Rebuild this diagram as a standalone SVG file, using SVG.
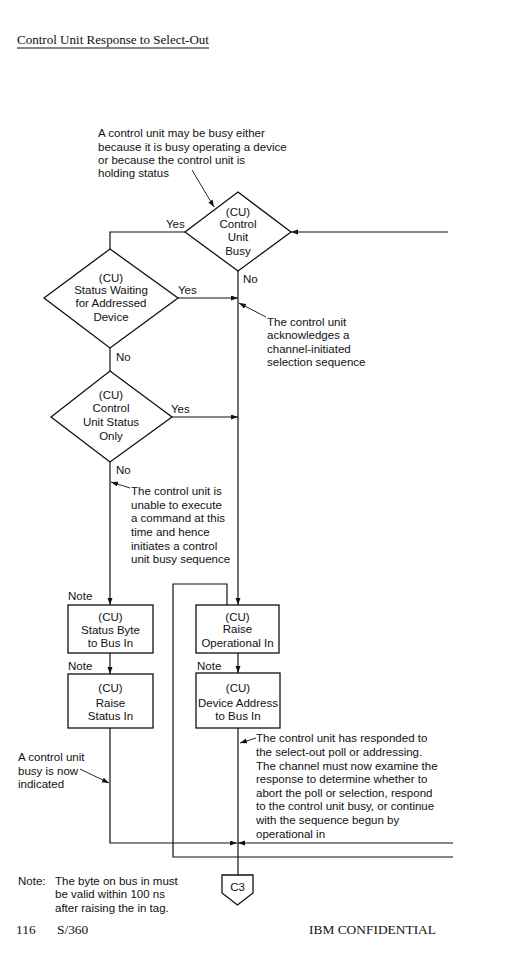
<svg xmlns="http://www.w3.org/2000/svg" width="526" height="972" viewBox="0 0 526 972">
<style>
.bg{fill:#fff}
.shape{fill:#fff;stroke:#111;stroke-width:1.3}
.ln{fill:none;stroke:#111;stroke-width:1.2}
.ann{fill:none;stroke:#111;stroke-width:0.9}
text{font-family:"Liberation Sans",Arial,sans-serif;font-size:11.5px;fill:#111}
.c{text-anchor:middle}
.serif{font-family:"Liberation Serif","Times New Roman",serif;font-size:13.4px}
</style>
<defs>
<marker id="ah" markerUnits="userSpaceOnUse" markerWidth="8" markerHeight="6" refX="7" refY="2.5" orient="auto">
<path d="M0,0 L7,2.5 L0,5 z" fill="#111"/>
</marker>
</defs>
<rect class="bg" x="0" y="0" width="526" height="972"/>

<g id="title">
<text class="serif" x="17" y="44" font-size="12.5" textLength="192" lengthAdjust="spacingAndGlyphs">Control Unit Response to Select-Out</text>
<line class="ln" x1="17" y1="48" x2="209" y2="48" stroke-width="1"/>
</g>

<g id="connectors">
<line class="ln" x1="448" y1="232" x2="291" y2="232" marker-end="url(#ah)"/>
<polyline class="ln" points="185,232 110,232 110,249"/>
<line class="ln" x1="238" y1="271" x2="238" y2="605" marker-end="url(#ah)"/>
<line class="ln" x1="178" y1="298" x2="238" y2="298" marker-end="url(#ah)"/>
<line class="ln" x1="110" y1="348" x2="110" y2="371"/>
<line class="ln" x1="172" y1="417" x2="238" y2="417" marker-end="url(#ah)"/>
<line class="ln" x1="110" y1="462" x2="110" y2="605" marker-end="url(#ah)"/>
<line class="ln" x1="110" y1="653" x2="110" y2="674" marker-end="url(#ah)"/>
<line class="ln" x1="238" y1="653" x2="238" y2="673" marker-end="url(#ah)"/>
<polyline class="ln" points="110,728 110,843 237,843" marker-end="url(#ah)"/>
<line class="ln" x1="453" y1="843" x2="238" y2="843" marker-end="url(#ah)"/>
<line class="ln" x1="238" y1="728" x2="238" y2="875"/>
<polyline class="ln" points="453,857 173,857 173,584 227,584 227,605"/>
<line class="ann" x1="192" y1="170" x2="214" y2="207" marker-end="url(#ah)"/>
<line class="ann" x1="266" y1="317" x2="239" y2="303" marker-end="url(#ah)"/>
<line class="ann" x1="130" y1="488" x2="111" y2="482" marker-end="url(#ah)"/>
<line class="ann" x1="256" y1="738" x2="240" y2="743" marker-end="url(#ah)"/>
<line class="ann" x1="80" y1="769" x2="109" y2="783" marker-end="url(#ah)"/>
</g>

<g id="d1">
<polygon class="shape" points="238,192 291,232 238,271 185,232"/>
<text class="c" x="238" y="215.7">(CU)</text>
<text class="c" x="238" y="227.5">Control</text>
<text class="c" x="238" y="241.3">Unit</text>
<text class="c" x="238" y="254.7">Busy</text>
</g>
<g id="d2">
<polygon class="shape" points="110,249 178,298 110,348 44,298"/>
<text class="c" x="111" y="281.7">(CU)</text>
<text class="c" x="111" y="294">Status Waiting</text>
<text class="c" x="111" y="307.3">for Addressed</text>
<text class="c" x="111" y="320.7">Device</text>
</g>
<g id="d3">
<polygon class="shape" points="110,371 172,417 110,462 51,417"/>
<text class="c" x="111" y="399">(CU)</text>
<text class="c" x="111" y="412.3">Control</text>
<text class="c" x="111" y="426.3">Unit Status</text>
<text class="c" x="111" y="440">Only</text>
</g>
<g id="b1">
<rect class="shape" x="68" y="605" width="85" height="48"/>
<text class="c" x="110.5" y="620.7">(CU)</text>
<text class="c" x="110.5" y="634">Status Byte</text>
<text class="c" x="110.5" y="646.7">to Bus In</text>
</g>
<g id="b2">
<rect class="shape" x="68" y="674" width="85" height="54"/>
<text class="c" x="110.5" y="691.7">(CU)</text>
<text class="c" x="110.5" y="707">Raise</text>
<text class="c" x="110.5" y="720">Status In</text>
</g>
<g id="b3">
<rect class="shape" x="196" y="605" width="83" height="48"/>
<text class="c" x="237.5" y="620.7">(CU)</text>
<text class="c" x="237.5" y="633.3">Raise</text>
<text class="c" x="237.5" y="646.7">Operational In</text>
</g>
<g id="b4">
<rect class="shape" x="196" y="673" width="84" height="55"/>
<text class="c" x="238" y="691.7">(CU)</text>
<text class="c" x="238" y="706.7">Device Address</text>
<text class="c" x="238" y="720">to Bus In</text>
</g>
<g id="c3">
<polygon class="shape" points="222,875 253,875 253,893 237.5,905 222,893"/>
<text class="c" x="237.5" y="891">C3</text>
</g>

<g id="labels">
<text x="166" y="228">Yes</text>
<text x="243" y="283">No</text>
<text x="178" y="294">Yes</text>
<text x="116" y="361">No</text>
<text x="171" y="413">Yes</text>
<text x="116" y="474">No</text>
<text x="68" y="600">Note</text>
<text x="68" y="670">Note</text>
<text x="197" y="670">Note</text>
</g>

<g id="annotations">
<text x="98" y="136.7">A control unit may be busy either</text>
<text x="98" y="150.7">because it is busy operating a device</text>
<text x="98" y="164">or because the control unit is</text>
<text x="98" y="177.3">holding status</text>

<text x="267" y="325.5">The control unit</text>
<text x="267" y="339">acknowledges a</text>
<text x="267" y="352.5">channel-initiated</text>
<text x="267" y="366">selection sequence</text>

<text x="131" y="495">The control unit is</text>
<text x="131" y="508.7">unable to execute</text>
<text x="131" y="522.4">a command at this</text>
<text x="131" y="536">time and hence</text>
<text x="131" y="549.7">initiates a control</text>
<text x="131" y="563.4">unit busy sequence</text>

<text x="256" y="742.3">The control unit has responded to</text>
<text x="256" y="756">the select-out poll or addressing.</text>
<text x="256" y="769.5">The channel must now examine the</text>
<text x="256" y="783">response to determine whether to</text>
<text x="256" y="796.7">abort the poll or selection, respond</text>
<text x="256" y="810.3">to the control unit busy, or continue</text>
<text x="256" y="824">with the sequence begun by</text>
<text x="256" y="837.7">operational in</text>

<text x="18" y="760.7">A control unit</text>
<text x="18" y="774.5">busy is now</text>
<text x="18" y="788">indicated</text>

<text x="18" y="884.7">Note:</text>
<text x="55" y="884.7">The byte on bus in must</text>
<text x="55" y="898.3">be valid within 100 ns</text>
<text x="55" y="911.7">after raising the in tag.</text>
</g>

<g id="footer">
<text class="serif" x="16" y="933.5">116</text>
<text class="serif" x="57" y="933.5">S/360</text>
<text class="serif" x="309" y="933.5" textLength="127" lengthAdjust="spacingAndGlyphs">IBM CONFIDENTIAL</text>
</g>
</svg>
